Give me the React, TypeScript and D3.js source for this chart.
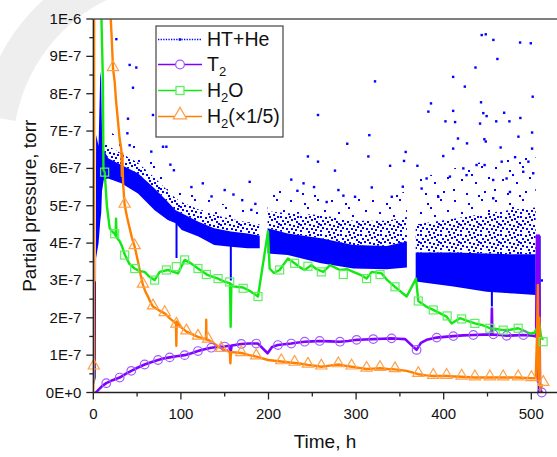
import React from 'react';
import * as d3 from 'd3';

const W = 557;
const H = 457;

// ---------- axis ticks ----------
const xTicks = [0, 100, 200, 300, 400, 500];
const xMinorTicks = [50, 150, 250, 350, 450];
const yTicks = [0, 1, 2, 3, 4, 5, 6, 7, 8, 9, 10];
const yTickLabels = ['0E+0', '1E-7', '2E-7', '3E-7', '4E-7', '5E-7', '6E-7', '7E-7', '8E-7', '9E-7', '1E-6'];
const yMinorTicks = [0.5, 1.5, 2.5, 3.5, 4.5, 5.5, 6.5, 7.5, 8.5, 9.5];

// ---------- HT+He (units of 1E-7 torr), dense scatter read as bands ----------
const htBandH = [1, 2.8, 3.2, 6, 8, 9, 10, 12, 17, 32, 51, 70, 85, 94, 101, 120, 138, 157, 176, 190, null, 199, 222, 260, 297, 335, 358, null, 368, 411, 449, 480, 505];
const htCoreLo = [0.2, 0.4, 3.6, 4.0, 4.6, 4.8, 5.4, 5.7, 5.73, 5.6, 5.33, 4.88, 4.62, 4.53, 4.35, 4.18, 3.95, 3.9, 3.86, 3.86, null, 3.72, 3.68, 3.46, 3.32, 3.3, 3.35, null, 2.97, 2.84, 2.7, 2.65, 2.61];
const htCoreHi = [2.9, 3.0, 6.9, 6.6, 8.6, 8.4, 6.8, 6.5, 6.27, 6.09, 5.87, 5.46, 5.11, 4.88, 4.8, 4.57, 4.4, 4.31, 4.26, 4.2, null, 4.4, 4.26, 4.13, 3.95, 3.92, 4.04, null, 3.75, 3.75, 3.72, 3.7, 3.7];
const htInnerHi = [2.9, 3.0, 6.9, 6.6, 8.6, 8.4, 6.9, 6.7, 6.6, 6.4, 6.15, 5.75, 5.4, 5.2, 5.1, 4.9, 4.75, 4.65, 4.55, 4.5, null, 4.85, 4.8, 4.75, 4.6, 4.6, 4.7, null, 4.5, 4.65, 4.8, 4.9, 4.95];
const htOuterHi = [2.9, 3.0, 6.9, 6.6, 8.6, 8.4, 7.1, 7.0, 7.0, 6.8, 6.6, 6.2, 5.9, 5.6, 5.5, 5.3, 5.1, 5.0, 4.95, 4.9, null, 5.4, 5.4, 5.3, 5.2, 5.2, 5.4, null, 5.7, 6.0, 6.2, 6.3, 6.3];
const htDipH = [95, 157, 455, 509];
const htDipLo = [3.6, 3.0, 2.3, 0.0];
const htDipHi = [4.6, 4.0, 3.0, 4.2];
const htOutH = [26.3, 41.5, 49.1, 45.3, 68.1, 39.6, 38.9, 41.5, 79.6, 83.4, 66.2, 88, 92, 112, 125, 135, 150, 160, 170, 178.5, 180.4, 185,
  226, 233, 240, 245, 252, 256.5, 256.5, 266.4, 275.9, 279.8, 285.5, 289.9, 298.8, 314, 315.1, 317.9, 321.6, 338.8, 340.7, 353.3, 354.7, 356.6,
  370, 374.8, 380.5, 382.5, 385.5, 393.8, 399.5, 402, 407.1, 410.8, 410.8, 410.8, 413, 416.3, 422.4, 424.1, 426.1, 426.6, 436.3, 437.5, 441.5,
  442.6, 443.4, 445.2, 446.4, 446.7, 448, 448, 449, 456.5, 456.5, 456.7, 460, 461.3, 465, 466.2, 469, 471.8, 475, 475.6, 481.5, 485.3, 487.2,
  487.5, 490.8, 496.7, 499.4, 500.9, 500.9, 501.6, 502.2, 512];
const htOutV = [9.46, 8.77, 8.7, 8.16, 7.43, 7.33, 6.94, 6.62, 6.58, 6.58, 6.45, 6.1, 5.95, 5.5, 5.6, 5.25, 5.42, 5.3, 5.15, 5.64, 4.89, 5.05,
  5.7, 5.4, 5.6, 6.32, 5.5, 7.43, 6.18, 5.1, 5.94, 5.42, 5.27, 6.66, 5.24, 6.32, 6.89, 5.49, 8.33, 6.07, 5.24, 5.51, 6.2, 6.44,
  6.07, 5.46, 5.73, 7.52, 7.74, 5.24, 6.33, 7.26, 5.78, 8.45, 7.54, 6.53, 7.24, 6.8, 6.0, 8.19, 5.82, 6.67, 8.7, 6.09, 7.2,
  7.77, 9.57, 7.48, 6.78, 6.09, 9.59, 6.72, 7.4, 5.69, 5.2, 9.44, 7.26, 8.93, 6.56, 6.18, 7.49, 5.73, 7.26, 5.37, 6.3, 6.85, 9.37,
  7.35, 5.91, 6.18, 9.35, 6.96, 6.53, 7.92, 5.87, 3.0];

// ---------- T2 ----------
const t2H = [1.5, 5, 10, 14.8, 22, 30.1, 37, 43.4, 51, 58.6, 66, 73.9, 80, 87.2, 95, 104.3, 112, 119.5, 127, 134.7, 142, 150, 155.5, 156.8, 158, 169, 178, 188, 199, 204, 210.8, 218, 226, 234, 241.3, 250, 258.4, 270, 281.6, 291, 300.6, 310, 319.6, 330, 340.5, 348, 356, 369, 374, 380.6, 392, 401, 411, 422, 433.8, 445, 454.5, 455, 455.5, 465, 471.9, 481, 490.9, 502, 505.5, 506.5, 507.5, 508.5, 510, 512];
const t2V = [-0.03, 0.05, 0.17, 0.25, 0.33, 0.40, 0.50, 0.58, 0.67, 0.75, 0.81, 0.87, 0.91, 0.94, 0.97, 1.0, 1.05, 1.11, 1.16, 1.20, 1.22, 1.23, 1.25, 1.09, 1.26, 1.30, 1.31, 1.31, 1.05, 1.22, 1.27, 1.29, 1.31, 1.34, 1.36, 1.37, 1.38, 1.37, 1.36, 1.38, 1.41, 1.42, 1.43, 1.44, 1.45, 1.44, 1.43, 1.14, 1.33, 1.41, 1.47, 1.49, 1.51, 1.53, 1.54, 1.55, 1.55, 2.25, 1.55, 1.54, 1.52, 1.53, 1.54, 1.52, 1.50, 4.2, 0.3, 4.2, 0.1, 0.0];
const t2MarkH = [14.8, 30.1, 43.4, 58.6, 73.9, 87.2, 104.3, 119.5, 134.7, 150, 169, 186, 210.8, 226, 241.3, 258.4, 281.6, 300.6, 319.6, 340.5, 369, 392, 411, 433.8, 456.7, 471.9, 490.9, 512];
const t2MarkV = [0.25, 0.40, 0.58, 0.75, 0.87, 0.94, 1.0, 1.11, 1.20, 1.23, 1.30, 1.31, 1.27, 1.31, 1.36, 1.38, 1.36, 1.41, 1.43, 1.45, 1.14, 1.47, 1.51, 1.54, 1.56, 1.52, 1.54, 0.0];

// ---------- H2O ----------
const h2oH = [0, 0.5, 1, 8.5, 9.3, 11, 11.6, 13, 15.5, 18.7, 22, 24.4, 25.5, 26, 26.6, 30.1, 33, 35.8, 41, 47.2, 53, 58.6, 64, 70, 75.8, 85.3, 96.7, 104.3, 112, 119.5, 130.9, 142.4, 150, 156, 156.8, 157.6, 159.5, 170.9, 180, 188, 199.4, 201.3, 206, 212.7, 222.2, 229.8, 236, 241.3, 248.9, 255, 262.6, 270.2, 281.6, 290, 296.8, 305, 312, 317.7, 329.1, 336, 344.4, 357.7, 368.4, 371, 380, 388.1, 396, 403.3, 409, 418.5, 427, 435.6, 445, 452.7, 460, 467.9, 476, 485, 492, 498.4, 504, 507, 508.2, 509.5, 511, 513.5];
const h2oV = [0.3, 12, 14, 14, 10.0, 8.3, 5.95, 5.9, 5.0, 4.40, 4.3, 4.25, 4.2, 4.65, 4.15, 4.05, 3.9, 3.70, 3.45, 3.32, 3.25, 3.23, 3.1, 3.01, 3.23, 3.28, 3.19, 3.55, 3.45, 3.32, 3.14, 3.05, 2.96, 2.93, 1.76, 2.9, 2.84, 2.81, 2.7, 2.57, 4.31, 3.32, 3.2, 3.28, 3.59, 3.46, 3.35, 3.28, 3.41, 3.3, 3.23, 3.41, 3.28, 3.3, 3.23, 3.15, 3.05, 3.23, 3.19, 3.0, 2.83, 2.57, 3.05, 2.45, 2.3, 2.21, 2.12, 2.03, 1.85, 1.99, 1.92, 1.85, 1.8, 1.72, 1.7, 1.67, 1.68, 1.72, 1.65, 1.58, 1.6, 1.76, 0.9, 1.8, 1.5, 1.41];
const h2oMarkH = [13, 24.4, 35.8, 47.2, 70, 83.4, 94.8, 104.3, 119.5, 129, 142.4, 155.7, 171, 188, 212.7, 229.8, 245, 260.3, 285.4, 312, 327.3, 344.4, 371, 388.1, 404, 420.5, 435.6, 452.7, 467.9, 485, 513.5];
const h2oMarkV = [5.9, 4.25, 3.68, 3.32, 3.01, 3.28, 3.37, 3.55, 3.32, 3.16, 3.05, 2.96, 2.79, 2.57, 3.28, 3.46, 3.38, 3.23, 3.16, 3.05, 3.16, 2.83, 2.45, 2.21, 2.05, 1.97, 1.85, 1.72, 1.67, 1.72, 1.36];

// ---------- H2 (x1/5) ----------
const h2H = [0, 0.3, 0.8, 1.2, 18, 19.7, 21, 22.5, 24.4, 26, 28.2, 30, 32, 32.6, 33.2, 34, 35.8, 38.5, 41.5, 44, 47.2, 51, 54, 56.7, 59.5, 62.4, 65, 68.1, 75, 81.5, 88, 94.3, 94.8, 95.2, 100, 106.3, 112, 119.5, 125, 128.6, 128.9, 129.2, 131, 137, 142.4, 149, 155.7, 156.5, 157.2, 163, 171, 178, 186.2, 199.4, 207, 214.6, 222, 229.8, 237, 245, 252, 260.3, 270, 279.7, 287, 294.9, 303, 312, 320, 327.3, 336, 344.4, 351, 357.7, 371, 380, 388.1, 396, 403.3, 412, 420.5, 428, 435.6, 444, 452.7, 460, 467.9, 476, 485, 493, 500.2, 505, 506.5, 507.5, 508.3, 509.2, 510, 512.8];
const h2V = [0, 0.72, 0.72, 30, 20, 10.1, 9.5, 8.68, 8.32, 7.8, 7.25, 6.8, 6.5, 5.8, 6.4, 5.6, 5.02, 4.7, 4.40, 4.15, 3.91, 3.51, 3.15, 2.88, 2.7, 2.57, 2.43, 2.30, 2.2, 2.12, 1.97, 1.85, 1.25, 1.9, 1.75, 1.63, 1.57, 1.49, 1.45, 1.42, 1.95, 1.42, 1.41, 1.33, 1.23, 1.15, 1.09, 0.78, 1.08, 1.07, 1.05, 1.0, 0.96, 0.87, 0.85, 0.83, 0.81, 0.79, 0.77, 0.74, 0.72, 0.69, 0.72, 0.75, 0.72, 0.69, 0.66, 0.63, 0.64, 0.65, 0.63, 0.62, 0.6, 0.58, 0.49, 0.46, 0.44, 0.44, 0.44, 0.43, 0.42, 0.41, 0.40, 0.40, 0.40, 0.40, 0.40, 0.40, 0.40, 0.39, 0.38, 0.38, 1.5, 2.88, 0.3, 2.0, 0.05, 0.22];
const h2MarkH = [0.6, 22.5, 35.8, 47.2, 56.7, 68.1, 81.5, 94.8, 106.3, 119.5, 131, 146, 169, 186, 214.6, 229.8, 245, 260.3, 279.7, 294.9, 312, 327.3, 344.4, 371, 388.1, 403.3, 420.5, 435.6, 452.7, 467.9, 485, 500.2, 513.7];
const h2MarkV = [0.69, 8.68, 5.02, 3.91, 2.88, 2.30, 2.12, 1.81, 1.63, 1.49, 1.41, 1.16, 1.05, 0.96, 0.83, 0.79, 0.74, 0.69, 0.75, 0.69, 0.63, 0.65, 0.62, 0.49, 0.44, 0.44, 0.42, 0.40, 0.40, 0.40, 0.40, 0.38, 0.25];

const legendNames = ['HT+He', 'T', 'H', 'H'];

// hand-placed speckle positions used only as fill texture for the scatter clouds
const denseDots = [[0, 0], [5, 1], [9, 0], [14, 2], [17, 0], [2, 4], [7, 5], [11, 3], [16, 5], [0, 8], [4, 7], [9, 8], [13, 9], [17, 10], [2, 11], [6, 12], [11, 12], [15, 13], [0, 14], [8, 15], [18, 7], [13, 16]];
const sparseDots = [[3, 2], [17, 5], [30, 1], [37, 12], [10, 14], [24, 17], [2, 24], [33, 26], [15, 28], [27, 30], [20, 9]];

const FONT = '"Liberation Sans", Arial, sans-serif';
const BLUE = '#0000ff';
const PURPLE = '#7f00ff';
const PURPLE_M = '#a05cff';
const GREEN = '#12e812';
const GREEN_M = '#5ef05e';
const ORANGE = '#ff8000';
const ORANGE_M = '#ffa04a';

export default function App() {
  const x = d3.scaleLinear().domain([0, 530]).range([93.3, 93.3 + 530 * 0.876]);
  const y = d3.scaleLinear().domain([0, 10]).range([392.5, 19]);
  const x0 = x(0);
  const yb = y(0);
  const yt = y(10);

  const band = (lo: (number | null)[], hi: (number | null)[]) => {
    const pts = htBandH.map((h, i) => ({ h, lo: lo[i], hi: hi[i] }));
    return d3.area<any>()
      .defined((d) => d.h != null && d.lo != null && d.hi != null)
      .x((d) => x(d.h))
      .y0((d) => y(d.lo))
      .y1((d) => y(d.hi))(pts) || '';
  };

  const line = (hs: number[], vs: number[]) =>
    d3.line<number>().x((d, i) => x(hs[i])).y((d, i) => y(vs[i]))(vs) || '';

  const tri = d3.symbol().type(d3.symbolTriangle).size(55)() || '';
  const triLeg = d3.symbol().type(d3.symbolTriangle).size(75)() || '';

  const legRows = [39.5, 64.5, 90.5, 116.5];
  const arc = d3.arc()({ innerRadius: 167, outerRadius: 203, startAngle: -80 * Math.PI / 180, endAngle: -15 * Math.PI / 180 } as any) || '';

  return (
    <svg width={W} height={H} style={{ position: 'absolute', left: 0, top: 0, background: '#fff' }} fontFamily={FONT}>
      <defs>
        <clipPath id="plotClip">
          <rect x={x0} y={yt} width={W - x0} height={yb - yt} />
        </clipPath>
        <pattern id="haloDense" width="20" height="18" patternUnits="userSpaceOnUse">
          {denseDots.map((p, i) => <rect key={i} x={p[0]} y={p[1]} width={2} height={2} fill={BLUE} />)}
        </pattern>
        <pattern id="haloSparse" width="41" height="33" patternUnits="userSpaceOnUse">
          {sparseDots.map((p, i) => <rect key={i} x={p[0]} y={p[1]} width={2} height={2} fill={BLUE} />)}
        </pattern>
      </defs>

      {/* faint watermark */}
      <path d={arc} transform="translate(180,150)" fill="#eeeeee" />
      <rect x={x0} y={yt} width={W - x0} height={yb - yt} fill="#fff" />

      {/* HT+He */}
      <g clipPath="url(#plotClip)">
        <path d={band(htInnerHi, htOuterHi)} fill="url(#haloSparse)" />
        <path d={band(htCoreHi, htInnerHi)} fill="url(#haloDense)" />
        <path d={band(htCoreLo, htCoreHi)} fill={BLUE} />
        {htDipH.map((h, i) => (
          <line key={'dip' + i} x1={x(h)} x2={x(h)} y1={y(htDipLo[i])} y2={y(htDipHi[i])} stroke={BLUE} strokeWidth={i === 3 ? 3 : 2} />
        ))}
        {htOutH.map((h, i) => (
          <rect key={'o' + i} x={x(h) - 1.2} y={y(htOutV[i]) - 1.2} width={2.4} height={2.4} fill={BLUE} />
        ))}
      </g>

      {/* lines */}
      <g clipPath="url(#plotClip)" fill="none" strokeLinejoin="round">
        <path d={line(t2H, t2V)} stroke={PURPLE} strokeWidth={2.6} />
        <path d={line(h2oH, h2oV)} stroke={GREEN} strokeWidth={2.4} />
        <path d={line(h2H, h2V)} stroke={ORANGE} strokeWidth={2.4} />
      </g>

      {/* markers */}
      <g fill="none" strokeWidth={1.2}>
        {t2MarkH.map((h, i) => (
          <circle key={'c' + i} cx={x(h)} cy={y(t2MarkV[i])} r={4.3} stroke={PURPLE_M} />
        ))}
        {h2oMarkH.map((h, i) => (
          <rect key={'s' + i} x={x(h) - 4} y={y(h2oMarkV[i]) - 4} width={8} height={8} stroke={GREEN_M} />
        ))}
        {h2MarkH.map((h, i) => (
          <path key={'t' + i} d={tri} transform={`translate(${x(h)},${y(h2MarkV[i]) - 1})`} stroke={ORANGE_M} />
        ))}
      </g>

      {/* axes */}
      <g stroke="#222" strokeWidth={1.3}>
        <line x1={x0} x2={x0} y1={yt} y2={yb} />
        <line x1={x0} x2={W} y1={yb} y2={yb} />
        <line x1={x0} x2={W} y1={yt} y2={yt} stroke="#555" strokeWidth={1.6} />
        {yTicks.map((t) => (
          <line key={'yt' + t} x1={x0 - 7} x2={x0} y1={y(t)} y2={y(t)} />
        ))}
        {yMinorTicks.map((t) => (
          <line key={'ym' + t} x1={x0 - 4} x2={x0} y1={y(t)} y2={y(t)} />
        ))}
        {xTicks.map((t) => (
          <line key={'xt' + t} x1={x(t)} x2={x(t)} y1={yb} y2={yb + 7} />
        ))}
        {xMinorTicks.map((t) => (
          <line key={'xm' + t} x1={x(t)} x2={x(t)} y1={yb} y2={yb + 4} />
        ))}
      </g>
      <g fontSize={15} fill="#111">
        {yTicks.map((t, i) => (
          <text key={'yl' + t} x={x0 - 12} y={y(t) + 5} textAnchor="end">{yTickLabels[i]}</text>
        ))}
        {xTicks.map((t) => (
          <text key={'xl' + t} x={x(t)} y={418.5} textAnchor="middle">{t}</text>
        ))}
      </g>
      <text x={325} y={448} fontSize={19} textAnchor="middle" fill="#111">Time, h</text>
      <text transform={`translate(36,${(yt + yb) / 2}) rotate(-90)`} fontSize={19} textAnchor="middle" fill="#111">Partial pressure, torr</text>

      {/* legend */}
      <g>
        <rect x={156} y={26} width={127} height={111} fill="#fff" stroke="#444" strokeWidth={1.2} />
        <line x1={158} x2={202} y1={legRows[0]} y2={legRows[0]} stroke={BLUE} strokeWidth={1.3} strokeDasharray="1.3 1.3" />
        <rect x={178.8} y={legRows[0] - 1.2} width={2.4} height={2.4} fill={BLUE} />
        <line x1={158} x2={202} y1={legRows[1]} y2={legRows[1]} stroke={PURPLE} strokeWidth={1.4} />
        <circle cx={180} cy={legRows[1]} r={4.4} fill="#fff" stroke={PURPLE_M} strokeWidth={1.3} />
        <line x1={158} x2={202} y1={legRows[2]} y2={legRows[2]} stroke={GREEN} strokeWidth={1.4} />
        <rect x={176} y={legRows[2] - 4} width={8} height={8} fill="#fff" stroke={GREEN_M} strokeWidth={1.3} />
        <line x1={158} x2={202} y1={legRows[3]} y2={legRows[3]} stroke={ORANGE} strokeWidth={1.4} />
        <path d={triLeg} transform={`translate(180,${legRows[3] - 1.5})`} fill="#fff" stroke={ORANGE_M} strokeWidth={1.3} />
        <g fontSize={19.5} fill="#111">
          <text x={207} y={legRows[0] + 6.8}>{legendNames[0]}</text>
          <text x={207} y={legRows[1] + 6.8}>{legendNames[1]}<tspan fontSize={13} dy={5}>2</tspan></text>
          <text x={207} y={legRows[2] + 6.8}>{legendNames[2]}<tspan fontSize={13} dy={5}>2</tspan><tspan dy={-5}>O</tspan></text>
          <text x={207} y={legRows[3] + 6.8}>{legendNames[3]}<tspan fontSize={13} dy={5}>2</tspan><tspan dy={-5}>(×1/5)</tspan></text>
        </g>
      </g>
    </svg>
  );
}
